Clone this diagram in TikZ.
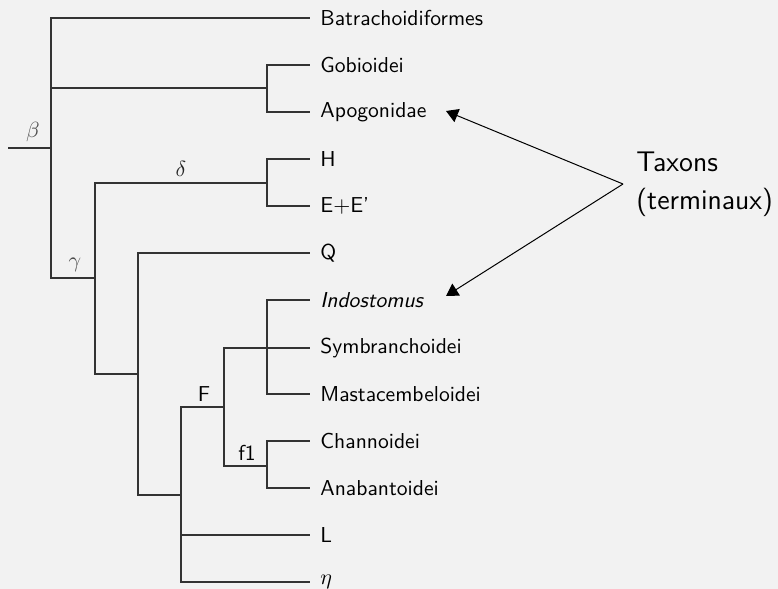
\documentclass[tikz,border=0pt]{standalone}
\usetikzlibrary{arrows.meta}
\definecolor{bgc}{HTML}{F2F2F2}
\definecolor{lnc}{HTML}{333333}
\begin{document}
\begin{tikzpicture}[x=0.5pt,y=-0.5pt,
  br/.style={draw=lnc,line width=0.6pt},
  leaf/.style={anchor=west,inner xsep=5pt,inner ysep=0pt,font=\sffamily\fontsize{10.8}{13}\selectfont},
  lab/.style={inner sep=0pt,font=\sffamily\fontsize{10.8}{13}\selectfont},
  arr/.style={draw=black,line width=0.5pt,-{Triangle[length=6pt,width=7pt]}}]
\fill[bgc] (0,0) rectangle (778,589);
\useasboundingbox (0,0) rectangle (778,589);
% internal coordinates
\coordinate (root) at (8,148);
\coordinate (beta) at (51,148);
\coordinate (gob) at (267,88);
\coordinate (gamma) at (95,278);
\coordinate (delta) at (267,183);
\coordinate (qn) at (138,374);
\coordinate (fb) at (181,495);
\coordinate (Fn) at (224,407);
\coordinate (poly) at (267,348);
\coordinate (f1n) at (267,466);
% leaves
\node[leaf] (batr) at (310,18) {Batrachoidiformes};
\node[leaf] (gobi) at (310,65) {Gobioidei};
\node[leaf] (apog) at (310,112) {Apogonidae};
\node[leaf] (H) at (310,159) {H};
\node[leaf] (EE) at (310,206) {E$+$E'};
\node[leaf] (Q) at (310,253) {Q};
\node[leaf] (indo) at (310,300) {\itshape Indostomus};
\node[leaf] (symb) at (310,348) {Symbranchoidei};
\node[leaf] (mast) at (310,394) {Mastacembeloidei};
\node[leaf] (chan) at (310,441) {Channoidei};
\node[leaf] (anab) at (310,488) {Anabantoidei};
\node[leaf] (L) at (310,535) {L};
\node[leaf] (eta) at (310,582) {$\eta$};
% branches
\draw[br] (root) -- (beta);
\draw[br] (beta) |- (batr.west);
\draw[br] (beta) |- (gob);
\draw[br] (beta) |- (gamma);
\draw[br] (gob) |- (gobi.west);
\draw[br] (gob) |- (apog.west);
\draw[br] (gamma) |- (delta);
\draw[br] (gamma) |- (qn);
\draw[br] (delta) |- (H.west);
\draw[br] (delta) |- (EE.west);
\draw[br] (qn) |- (Q.west);
\draw[br] (qn) |- (fb);
\draw[br] (fb) |- (Fn);
\draw[br] (fb) |- (L.west);
\draw[br] (fb) |- (eta.west);
\draw[br] (Fn) |- (symb.west);
\draw[br] (Fn) |- (f1n);
\draw[br] (poly) |- (indo.west);
\draw[br] (poly) |- (mast.west);
\draw[br] (f1n) |- (chan.west);
\draw[br] (f1n) |- (anab.west);
% branch labels
\node[lab,text=black!70] (lbeta) at (33,132) {$\beta$};
\node[lab,text=black!70] (lgamma) at (75,265) {$\gamma$};
\node[lab,text=black!85] (ldelta) at (181,169) {$\delta$};
\node[lab] (lF) at (204,394) {F};
\node[lab] (lf1) at (247,453) {f1};
% annotation
\node[anchor=west,inner xsep=6.5pt,align=left,font=\sffamily\fontsize{14.2}{19}\selectfont] (tax) at (623,184) {Taxons\\(terminaux)};
\coordinate (tipA) at (446,111);
\coordinate (tipB) at (446,296);
\draw[arr] (tax.west) -- (tipA);
\draw[arr] (tax.west) -- (tipB);
\end{tikzpicture}
\end{document}
